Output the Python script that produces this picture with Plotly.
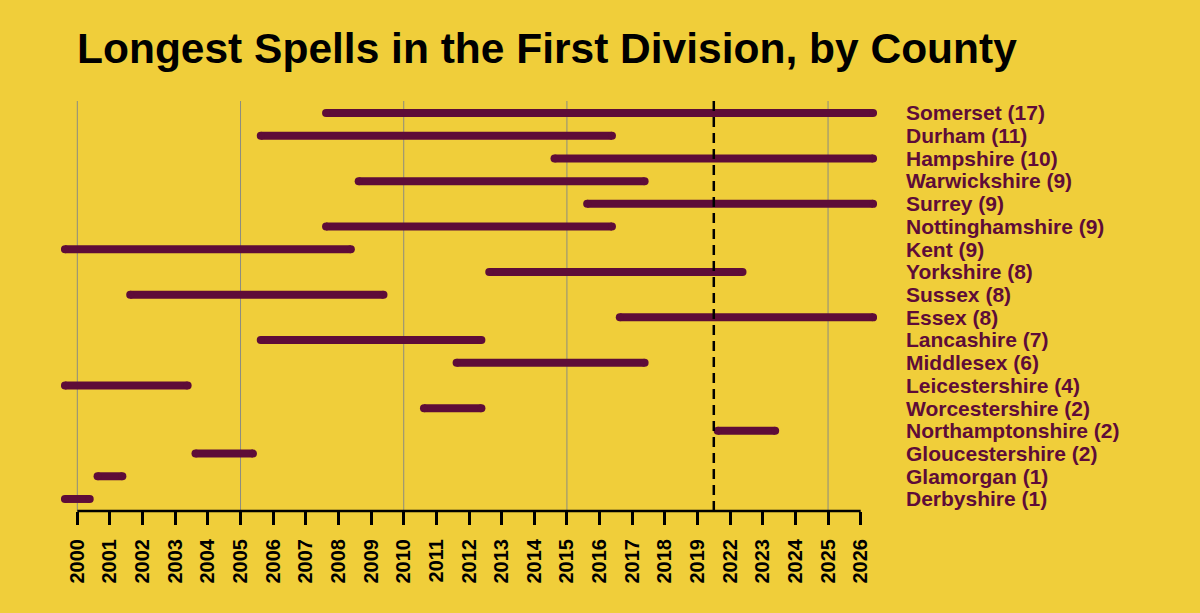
import plotly.graph_objects as go

# Seasons in the First Division (no 2020/2021 in the table)
seasons = [str(y) for y in range(2000, 2020)] + ["2022", "2023", "2024", "2025", "2026"]

counties = ["Somerset", "Durham", "Hampshire", "Warwickshire", "Surrey",
            "Nottinghamshire", "Kent", "Yorkshire", "Sussex", "Essex",
            "Lancashire", "Middlesex", "Leicestershire", "Worcestershire",
            "Northamptonshire", "Gloucestershire", "Glamorgan", "Derbyshire"]
spell_start = ["2008", "2006", "2015", "2009", "2016", "2008", "2000", "2013", "2002",
               "2017", "2006", "2012", "2000", "2011", "2022", "2004", "2001", "2000"]
spell_end = ["2026", "2016", "2026", "2017", "2026", "2016", "2008", "2022", "2009",
             "2026", "2012", "2017", "2003", "2012", "2023", "2005", "2001", "2000"]

grid_years = ["2000", "2005", "2010", "2015", "2025"]

BG = "#F0CE3A"
BAR = "#5E0C38"
CAP = 0.12  # round end-cap radius in axis units

idx = {s: i for i, s in enumerate(seasons)}

xs, ys, labels = [], [], []
for c, s, e in zip(counties, spell_start, spell_end):
    a, b = idx[s], idx[e]
    xs += [a - 0.5 + CAP, b + 0.5 - CAP, None]
    ys += [c, c, None]
    labels.append(f"{c} ({b - a + 1})")

fig = go.Figure()

fig.add_trace(go.Scatter(
    x=xs, y=ys, mode="lines+markers",
    line=dict(color=BAR, width=8),
    marker=dict(color=BAR, size=8),
    hoverinfo="skip", showlegend=False,
))

# vertical grid lines
for g in grid_years:
    fig.add_shape(type="line", x0=idx[g], x1=idx[g], y0=0, y1=1, yref="paper",
                  line=dict(color="#8C8C80", width=1), layer="below")

# dashed break where 2020/2021 are missing
gap = (idx["2019"] + idx["2022"]) / 2
fig.add_shape(type="line", x0=gap, x1=gap, y0=0, y1=1, yref="paper",
              line=dict(color="black", width=2.5, dash="10px,6px"))

# axis line only between first and last ticks
fig.add_shape(type="line", x0=0, x1=len(seasons) - 1, y0=0, y1=0, yref="paper",
              line=dict(color="black", width=2.5))

fig.update_layout(
    title=dict(text="<b>Longest Spells in the First Division, by County</b>",
               x=77 / 1200, xanchor="left", y=0.922, yanchor="middle",
               font=dict(size=42.5, color="black", family="Liberation Sans, Arial")),
    paper_bgcolor=BG, plot_bgcolor=BG,
    width=1200, height=613,
    margin=dict(l=61, r=323, t=101, b=102),
    font=dict(family="Liberation Sans, Arial", color="black"),
    xaxis=dict(
        range=[-0.5, len(seasons) - 0.5],
        tickmode="array", tickvals=list(range(len(seasons))), ticktext=seasons,
        tickangle=-90, ticks="outside", ticklen=13, tickwidth=2.5, tickcolor="black",
        tickfont=dict(size=20, color="black", family="Liberation Sans, Arial", weight="bold"),
        showgrid=False, zeroline=False, showline=False,
        ticklabelstandoff=6,
    ),
    yaxis=dict(
        type="category", categoryarray=counties,
        tickmode="array", tickvals=counties, ticktext=labels,
        range=[len(counties) - 0.47, -0.53],
        side="right", ticks="", showgrid=False, zeroline=False, showline=False,
        tickfont=dict(size=21, color=BAR, family="Liberation Sans, Arial", weight="bold"),
        ticklabelstandoff=28,
    ),
)

fig.write_html("out.html", config={"displayModeBar": False},
               post_script="document.body.style.margin='0';")
